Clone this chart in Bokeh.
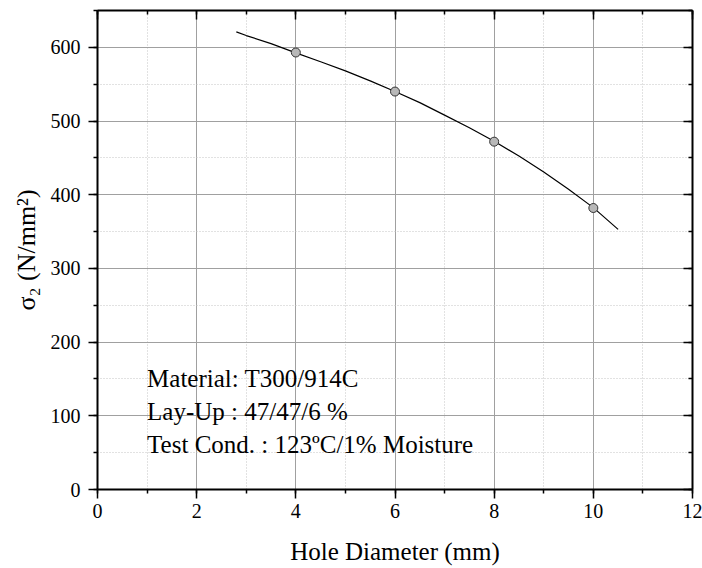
from bokeh.plotting import figure
from bokeh.models import Range1d, LinearAxis, SingleIntervalTicker, Grid
from bokeh.core.properties import value
from bokeh.embed import file_html
from bokeh.resources import INLINE

# measured points
hole_diameter = [4, 6, 8, 10]
sigma2 = [593, 540, 472, 382]

# fitted curve
curve_x = [2.8, 3.0, 3.5, 4.0, 4.5, 5.0, 5.5, 6.0, 6.5, 7.0, 7.5, 8.0, 8.5, 9.0, 9.5, 10.0, 10.5]
curve_y = [621, 616, 605, 592.5, 580.5, 568, 554.5, 540, 525, 508, 491, 472.5, 452.5, 431, 407.5, 382.5, 353]

notes = ["Material: T300/914C", "Lay-Up : 47/47/6 %", "Test Cond. : 123\u00baC/1% Moisture"]
x_title = "Hole Diameter (mm)"
y_title = "\u03c3\u2082 (N/mm\u00b2)"

FONT = "Liberation Serif"

p = figure(width=702, height=568, output_backend="svg", toolbar_location=None,
           x_range=Range1d(0, 12), y_range=Range1d(0, 650),
           x_axis_location=None, y_axis_location=None,
           min_border_left=97, min_border_right=10, min_border_top=10, min_border_bottom=79)
p.outline_line_color = None
p.background_fill_color = "white"
p.xgrid.visible = False
p.ygrid.visible = False

xt = SingleIntervalTicker(interval=2, num_minor_ticks=2)
yt = SingleIntervalTicker(interval=100, num_minor_ticks=2)

common = dict(axis_line_width=2, axis_line_color="black",
              major_tick_line_width=1.5, minor_tick_line_width=1.5,
              major_tick_line_color="black", minor_tick_line_color="black")

labelled = dict(major_tick_out=9, major_tick_in=0, minor_tick_out=4, minor_tick_in=0,
                major_label_text_font=FONT, major_label_text_font_size="20px",
                major_label_text_color="black",
                axis_label_text_font=FONT,
                axis_label_text_font_style="normal", axis_label_text_color="black")

xaxis = LinearAxis(ticker=xt, axis_label=x_title, major_label_standoff=5,
                   axis_label_standoff=17, axis_label_text_font_size="25px", **common, **labelled)
yaxis = LinearAxis(ticker=yt, axis_label=y_title, major_label_standoff=8,
                   axis_label_standoff=7, axis_label_text_font_size="26px", **common, **labelled)
p.add_layout(xaxis, "below")
p.add_layout(yaxis, "left")

for loc, tk in (("above", xt), ("right", yt)):
    ax = LinearAxis(ticker=tk, major_tick_in=9, major_tick_out=0, minor_tick_in=4, minor_tick_out=0,
                    major_label_text_font_size="0px", major_label_standoff=0,
                    major_label_overrides={i: "" for i in range(0, 700)}, **common)
    p.add_layout(ax, loc)

grid_style = dict(grid_line_color="#a0a0a0", grid_line_width=1,
                  minor_grid_line_color="#c4c4c4", minor_grid_line_width=1,
                  minor_grid_line_dash="1 2")
p.add_layout(Grid(dimension=0, ticker=xt, **grid_style))
p.add_layout(Grid(dimension=1, ticker=yt, **grid_style))

p.line(curve_x, curve_y, line_color="black", line_width=1.2)
p.scatter(hole_diameter, sigma2, size=9, fill_color="#b8b8b8", line_color="#333333", line_width=1)

p.text(x=[1.0, 1.0, 1.0], y=[151, 106, 61], text=notes, text_font=value(FONT),
       text_font_size="25px", text_color="black", text_baseline="alphabetic", text_align="left")

open("out.html", "w").write(file_html(p, INLINE))
